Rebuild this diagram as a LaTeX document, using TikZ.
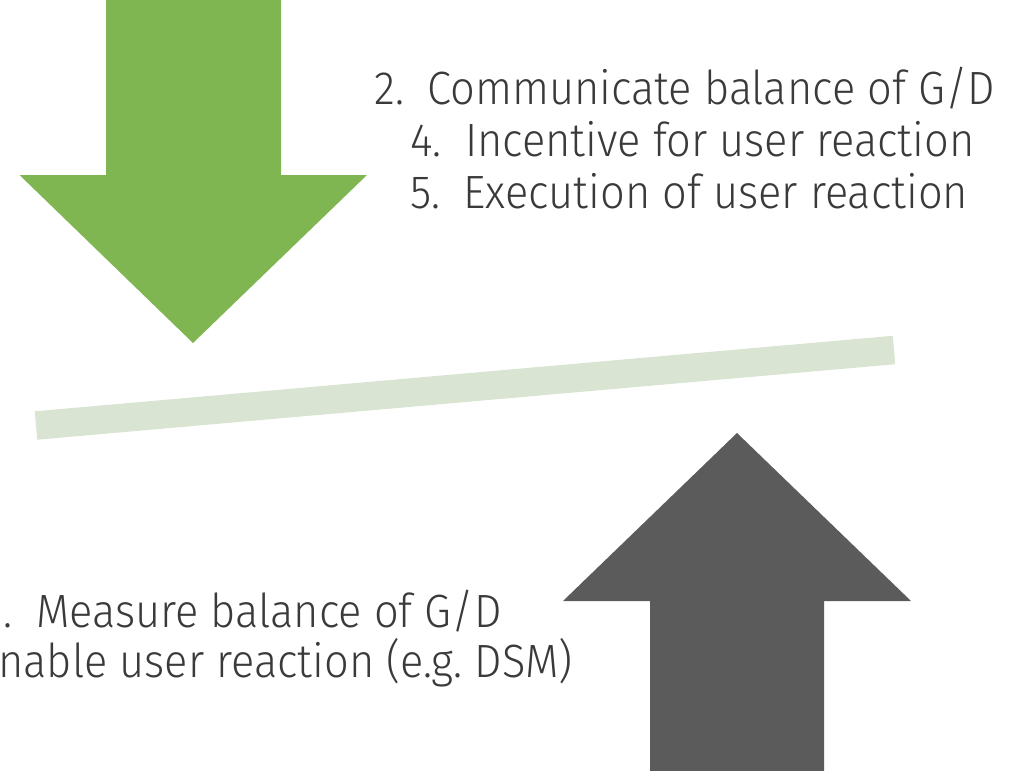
\documentclass[tikz,border=0pt]{standalone}
\usepackage{fontspec}
\setmainfont{Fira Sans}[UprightFont=* Light, FakeStretch=0.93]
\definecolor{arrowgreen}{HTML}{80B651}
\definecolor{barsage}{HTML}{D9E5D2}
\definecolor{arrowgray}{HTML}{5B5B5B}
\definecolor{textgray}{HTML}{3A3A3A}
\tikzset{
  steplabel/.style={inner sep=0pt, text=textgray, font=\fontsize{35}{42}\selectfont},
  beam/.style={draw=barsage, line width=21.4pt, line cap=butt},
}
\begin{document}
\begin{tikzpicture}[x=0.75pt, y=-0.75pt]
\useasboundingbox (0,0) rectangle (1033,771);
\clip (0,0) rectangle (1033,771);

% supply arrow pressing down from the top
\fill[arrowgreen] (106,-5) -- (281,-5) -- (281,175) -- (367,175)
  -- (193,343) -- (19.5,175) -- (106,175) -- cycle;

% tilted balance beam
\coordinate (beamL) at (36,425.5);
\coordinate (beamR) at (894,350);
\draw[beam] (beamL) -- (beamR);

% demand arrow pushing up from the bottom
\fill[arrowgray] (650,776) -- (824,776) -- (824,601) -- (911,601)
  -- (737,433) -- (563,601) -- (650,601) -- cycle;

% process steps
\node[steplabel, anchor=base west] (s2) at (374,104) {2.\enspace Communicate balance of G/D};
\node[steplabel, anchor=base west] (s4) at (410,156) {4.\enspace Incentive for user reaction};
\node[steplabel, anchor=base west] (s5) at (410,208) {5.\enspace Execution of user reaction};

\node[steplabel, anchor=base east] (s1) at (502,627) {1.\enspace Measure balance of G/D};
\node[steplabel, anchor=base east] (s3) at (573,677) {3.\enspace Enable user reaction (e.g.\ DSM)};
\end{tikzpicture}
\end{document}
